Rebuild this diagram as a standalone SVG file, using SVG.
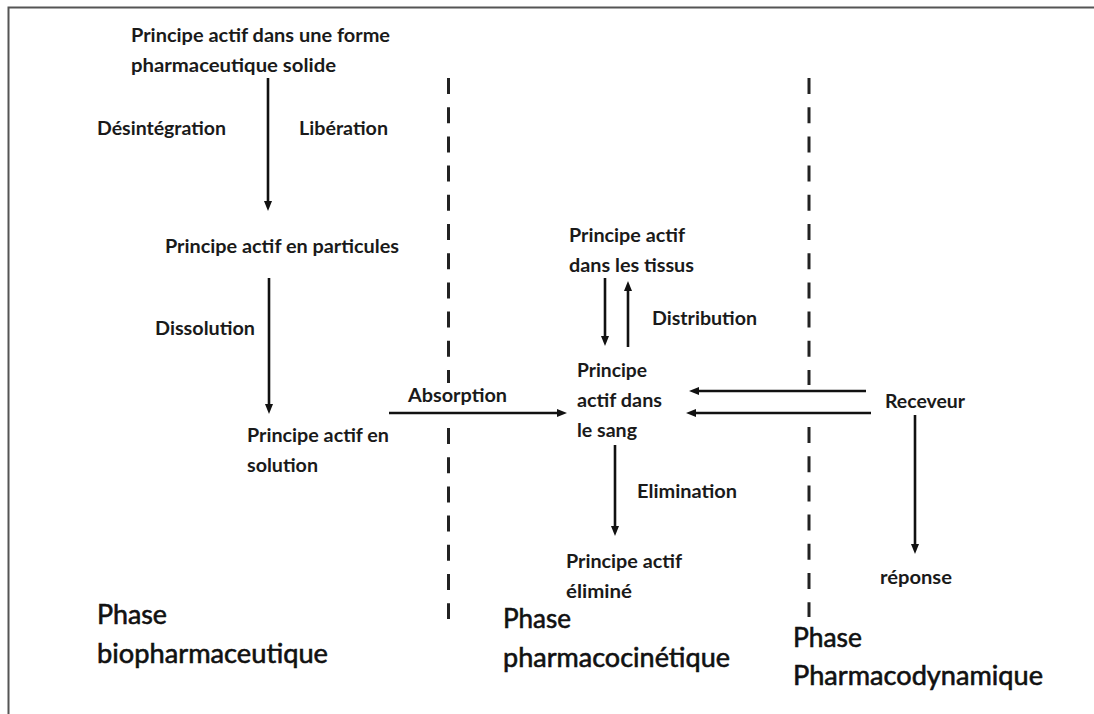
<svg xmlns="http://www.w3.org/2000/svg" width="1094" height="714" viewBox="0 0 1094 714">
<defs>
<style>
.t{font-family:Lato,"Liberation Sans",sans-serif;font-size:19px;font-weight:700;fill:#1a1a1a}
.p{font-family:Lato,"Liberation Sans",sans-serif;font-size:27px;font-weight:400;fill:#111;stroke:#111;stroke-width:0.6}
.a{stroke:#111;stroke-width:2.6;fill:none;marker-end:url(#ah)}
.d{stroke:#222;stroke-width:3;stroke-dasharray:16 13.2;fill:none}
.b{stroke:#555;stroke-width:2;fill:none}
</style>
<marker id="ah" markerUnits="userSpaceOnUse" markerWidth="12" markerHeight="10" refX="2" refY="4" orient="auto">
<path d="M0,0 L10,4 L0,8 z" fill="#111"/>
</marker>
</defs>
<rect width="1094" height="714" fill="#fff"/>
<g id="border">
<path class="b" d="M8.5,714 V7.5 H1094"/>
</g>
<g id="phase-separators">
<line class="d" x1="448.5" y1="78" x2="448.5" y2="383"/>
<line class="d" x1="448.5" y1="428" x2="448.5" y2="619"/>
<line class="d" x1="809" y1="78" x2="809" y2="385"/>
<line class="d" x1="809" y1="427" x2="809" y2="617"/>
</g>
<g id="connectors">
<line class="a" x1="268" y1="78" x2="268" y2="203"/>
<line class="a" x1="269" y1="278" x2="269" y2="406"/>
<line class="a" x1="389" y1="413" x2="559" y2="413"/>
<line class="a" x1="605" y1="278" x2="605" y2="338"/>
<line class="a" x1="628" y1="347" x2="628" y2="289"/>
<line class="a" x1="866" y1="391" x2="697" y2="391"/>
<line class="a" x1="871" y1="413" x2="694" y2="413"/>
<line class="a" x1="615" y1="445" x2="615" y2="528"/>
<line class="a" x1="915" y1="415" x2="915" y2="546"/>
</g>
<g id="node-forme-solide">
<text class="t" x="131" y="42" textLength="259" lengthAdjust="spacingAndGlyphs">Principe actif dans une forme</text>
<text class="t" x="131" y="72" textLength="205" lengthAdjust="spacingAndGlyphs">pharmaceutique solide</text>
</g>
<g id="label-desintegration"><text class="t" x="97" y="135" textLength="129" lengthAdjust="spacingAndGlyphs">Désintégration</text></g>
<g id="label-liberation"><text class="t" x="299" y="135" textLength="89" lengthAdjust="spacingAndGlyphs">Libération</text></g>
<g id="node-particules"><text class="t" x="165" y="253" textLength="234" lengthAdjust="spacingAndGlyphs">Principe actif en particules</text></g>
<g id="label-dissolution"><text class="t" x="155" y="335" textLength="100" lengthAdjust="spacingAndGlyphs">Dissolution</text></g>
<g id="node-solution">
<text class="t" x="247" y="442" textLength="142" lengthAdjust="spacingAndGlyphs">Principe actif en</text>
<text class="t" x="247" y="472" textLength="71" lengthAdjust="spacingAndGlyphs">solution</text>
</g>
<g id="label-absorption"><text class="t" x="408" y="402" textLength="99" lengthAdjust="spacingAndGlyphs">Absorption</text></g>
<g id="node-tissus">
<text class="t" x="569" y="242" textLength="116" lengthAdjust="spacingAndGlyphs">Principe actif</text>
<text class="t" x="569" y="272" textLength="125" lengthAdjust="spacingAndGlyphs">dans les tissus</text>
</g>
<g id="label-distribution"><text class="t" x="652" y="325" textLength="105" lengthAdjust="spacingAndGlyphs">Distribution</text></g>
<g id="node-sang">
<text class="t" x="577" y="377" textLength="70" lengthAdjust="spacingAndGlyphs">Principe</text>
<text class="t" x="577" y="407" textLength="85" lengthAdjust="spacingAndGlyphs">actif dans</text>
<text class="t" x="577" y="437" textLength="60" lengthAdjust="spacingAndGlyphs">le sang</text>
</g>
<g id="node-receveur"><text class="t" x="885" y="408" textLength="80" lengthAdjust="spacingAndGlyphs">Receveur</text></g>
<g id="label-elimination"><text class="t" x="637" y="498" textLength="100" lengthAdjust="spacingAndGlyphs">Elimination</text></g>
<g id="node-elimine">
<text class="t" x="566" y="568" textLength="116" lengthAdjust="spacingAndGlyphs">Principe actif</text>
<text class="t" x="566" y="598" textLength="66" lengthAdjust="spacingAndGlyphs">éliminé</text>
</g>
<g id="node-reponse"><text class="t" x="880" y="584" textLength="72" lengthAdjust="spacingAndGlyphs">réponse</text></g>
<g id="phase-bio">
<text class="p" x="97" y="624" textLength="70" lengthAdjust="spacingAndGlyphs">Phase</text>
<text class="p" x="97" y="663" textLength="231" lengthAdjust="spacingAndGlyphs">biopharmaceutique</text>
</g>
<g id="phase-pk">
<text class="p" x="503" y="628" textLength="68" lengthAdjust="spacingAndGlyphs">Phase</text>
<text class="p" x="503" y="667" textLength="227" lengthAdjust="spacingAndGlyphs">pharmacocinétique</text>
</g>
<g id="phase-pd">
<text class="p" x="793" y="647" textLength="69" lengthAdjust="spacingAndGlyphs">Phase</text>
<text class="p" x="793" y="685" textLength="250" lengthAdjust="spacingAndGlyphs">Pharmacodynamique</text>
</g>
</svg>
